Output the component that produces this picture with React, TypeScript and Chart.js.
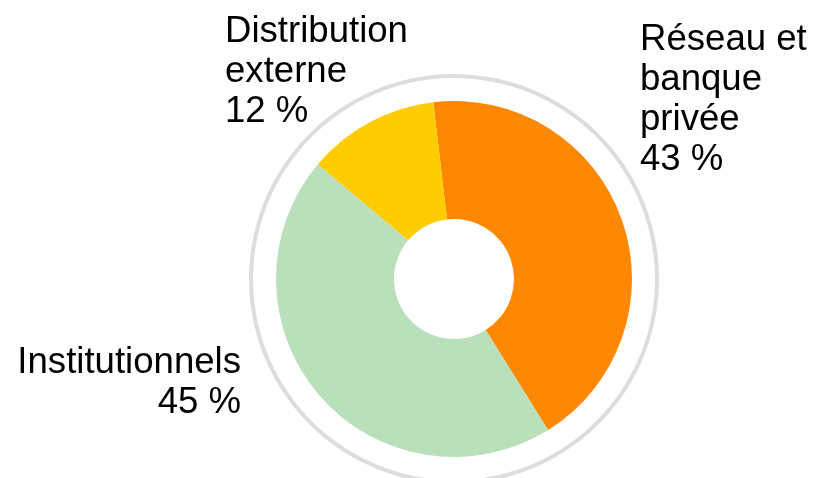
import React, { useEffect, useRef } from "react";
import { Chart, registerables } from "chart.js";

Chart.register(...registerables);

const categories = ["Réseau et banque privée", "Institutionnels", "Distribution externe"];
const labelLines = [["Réseau et", "banque", "privée"], ["Institutionnels"], ["Distribution", "externe"]];
const values = [43, 45, 12];
const colors = ["#FF8800", "#B9DFBB", "#FFCC00"];

const labelPlugin = {
  id: "sliceLabels",
  afterDraw(chart: any) {
    const ctx = chart.ctx;
    const anchors = [
      { x: 640, y: 50, align: "left" },
      { x: 241, y: 373, align: "right" },
      { x: 225, y: 42, align: "left" },
    ];
    ctx.save();
    ctx.fillStyle = "#000000";
    ctx.font = '36.6px "Liberation Sans", Arial, sans-serif';
    ctx.textBaseline = "alphabetic";
    values.forEach((v, i) => {
      const a = anchors[i];
      ctx.textAlign = a.align;
      const lines = [...labelLines[i], `${v} %`];
      lines.forEach((ln, j) => {
        ctx.fillText(ln, a.x, a.y + j * 40);
      });
    });
    ctx.restore();
  },
};

export default function App() {
  const ref = useRef<HTMLCanvasElement>(null);
  useEffect(() => {
    document.body.style.margin = "0";
    const chart = new Chart(ref.current!, {
      type: "doughnut",
      data: {
        labels: categories,
        datasets: [
          { data: [1], backgroundColor: ["#DDDDDD"], borderWidth: 0, weight: 4 } as any,
          { data: [1], backgroundColor: ["rgba(0,0,0,0)"], borderWidth: 0, weight: 23 } as any,
          { data: values, backgroundColor: colors, borderWidth: 0, weight: 118 } as any,
        ],
      },
      options: {
        animation: false,
        responsive: false,
        radius: 205,
        cutout: `${(60 / 205) * 100}%`,
        rotation: -6.7,
        layout: { padding: { left: 92, top: 80, right: 0, bottom: 0 } },
        plugins: { legend: { display: false }, tooltip: { enabled: false } },
      } as any,
      plugins: [labelPlugin],
    });
    return () => chart.destroy();
  }, []);
  return (
    <canvas
      ref={ref}
      width={816}
      height={478}
      style={{ position: "fixed", left: 0, top: 0, width: 816, height: 478 }}
    />
  );
}
